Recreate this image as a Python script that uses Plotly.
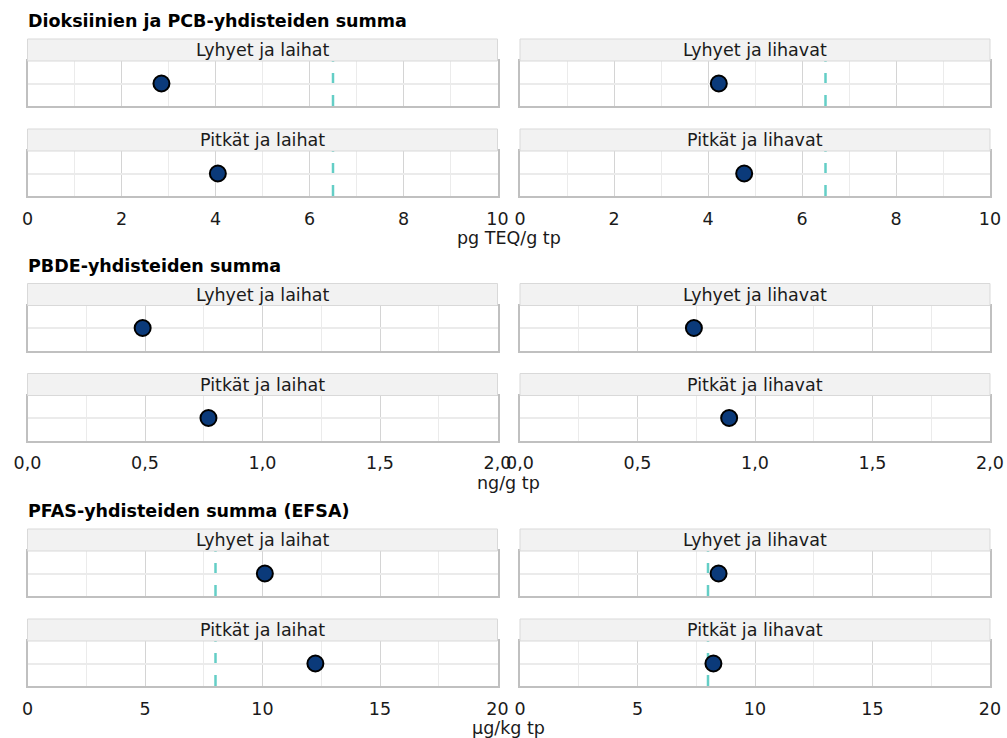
import plotly.graph_objects as go

# Faceted dot charts: three contaminant sums, four fish size groups each
groups = ["Lyhyet ja laihat", "Lyhyet ja lihavat", "Pitkät ja laihat", "Pitkät ja lihavat"]

dioxin_pcb = [2.85, 4.23, 4.05, 4.77]
pbde = [0.49, 0.74, 0.77, 0.89]
pfas = [10.1, 8.45, 12.25, 8.23]

block_titles = [
    "Dioksiinien ja PCB-yhdisteiden summa",
    "PBDE-yhdisteiden summa",
    "PFAS-yhdisteiden summa (EFSA)",
]
units = ["pg TEQ/g tp", "ng/g tp", "µg/kg tp"]
limits = [6.5, None, 8.0]
x_max = [10, 2, 20]
major_ticks = [
    [0, 2, 4, 6, 8, 10],
    [0, 0.5, 1.0, 1.5, 2.0],
    [0, 5, 10, 15, 20],
]
tick_labels = [
    ["0", "2", "4", "6", "8", "10"],
    ["0,0", "0,5", "1,0", "1,5", "2,0"],
    ["0", "5", "10", "15", "20"],
]

series = [dioxin_pcb, pbde, pfas]

# ---- geometry (pixels) ----
W, H = 1007, 738
col_left = [27.5, 520.0]
col_right = [497.5, 990.0]
block_tops = [39.0, 283.5, 529.0]
STRIP_H = 22.0
PANEL_H = 45.0
ROW_STEP = 90.0

FONT = "DejaVu Sans, Verdana, sans-serif"
FS = 17.5
TEXT = "#1A1A1A"
BORDER = "#C0C0C0"
GRID_MAJOR = "#D4D4D4"
GRID_MINOR = "#EBEBEB"
DOT_FILL = "#0B3A7A"
LIMIT_COLOR = "#64CEC6"


def fx(px):
    return px / W


def fy(py):
    return 1 - py / H


fig = go.Figure()
axes = {}
shapes = []
annotations = []
n = 0
for b in range(3):
    top = block_tops[b]
    vals = series[b]
    minor_vals = [
        (a + c) / 2 for a, c in zip(major_ticks[b][:-1], major_ticks[b][1:])
    ]
    for g in range(4):
        r, c = divmod(g, 2)
        n += 1
        strip_top = top + r * ROW_STEP
        pan_top = strip_top + STRIP_H
        pan_bot = pan_top + PANEL_H
        x0, x1 = col_left[c], col_right[c]
        xa = "x" if n == 1 else f"x{n}"
        ya = "y" if n == 1 else f"y{n}"
        kx = "xaxis" if n == 1 else f"xaxis{n}"
        ky = "yaxis" if n == 1 else f"yaxis{n}"

        fig.add_trace(
            go.Scatter(
                x=[vals[g]],
                y=[1],
                xaxis=xa,
                yaxis=ya,
                mode="markers",
                marker=dict(
                    symbol="circle",
                    size=16,
                    color=DOT_FILL,
                    line=dict(color="black", width=2),
                ),
                showlegend=False,
                hoverinfo="skip",
                cliponaxis=False,
            )
        )

        axes[kx] = dict(
            domain=[fx(x0), fx(x1)],
            anchor=ya,
            range=[0, x_max[b]],
            automargin=False,
            tickmode="array",
            tickvals=major_ticks[b],
            ticktext=tick_labels[b],
            showticklabels=(r == 1),
            ticks="outside" if r == 1 else "",
            ticklen=6,
            tickcolor="rgba(0,0,0,0)",
            tickfont=dict(family=FONT, size=FS, color=TEXT),
            showgrid=True,
            gridcolor=GRID_MAJOR,
            gridwidth=1,
            minor=dict(
                tickmode="array",
                tickvals=minor_vals,
                showgrid=True,
                gridcolor=GRID_MINOR,
                gridwidth=1,
                ticks="",
            ),
            showline=True,
            mirror=True,
            linecolor=BORDER,
            linewidth=1.5,
            zeroline=False,
            fixedrange=True,
        )
        axes[ky] = dict(
            domain=[fy(pan_bot), fy(pan_top)],
            anchor=xa,
            range=[0.4, 1.6],
            automargin=False,
            tickmode="array",
            tickvals=[1],
            showticklabels=False,
            ticks="",
            showgrid=True,
            gridcolor=GRID_MINOR,
            gridwidth=2,
            showline=True,
            mirror=True,
            linecolor=BORDER,
            linewidth=1.5,
            zeroline=False,
            fixedrange=True,
        )

        # facet strip
        shapes.append(
            dict(
                type="rect",
                xref="paper",
                yref="paper",
                x0=fx(x0),
                x1=fx(x1),
                y0=fy(pan_top),
                y1=fy(strip_top),
                fillcolor="#F2F2F2",
                line=dict(color="#D9D9D9", width=1),
                layer="above",
            )
        )
        annotations.append(
            dict(
                xref="paper",
                yref="paper",
                x=fx((x0 + x1) / 2),
                y=fy(strip_top + STRIP_H / 2),
                text=groups[g],
                showarrow=False,
                xanchor="center",
                yanchor="middle",
                font=dict(family=FONT, size=FS, color=TEXT),
            )
        )

        # reference limit, drawn as a dashed vertical line
        if limits[b] is not None:
            shapes.append(
                dict(
                    type="line",
                    xref=xa,
                    yref=f"{ya} domain",
                    x0=limits[b],
                    x1=limits[b],
                    y0=0,
                    y1=1,
                    line=dict(color=LIMIT_COLOR, width=2.5, dash="11px,11px"),
                    layer="below",
                )
            )

    # block title
    annotations.append(
        dict(
            xref="paper",
            yref="paper",
            x=fx(26),
            y=fy(top - 18),
            text=f"<b>{block_titles[b]}</b>",
            showarrow=False,
            xanchor="left",
            yanchor="middle",
            font=dict(family=FONT, size=FS, color="black"),
        )
    )
    # shared x-axis title
    bottom = top + ROW_STEP + STRIP_H + PANEL_H
    annotations.append(
        dict(
            xref="paper",
            yref="paper",
            x=fx((col_right[0] + col_left[1]) / 2),
            y=fy(bottom + 42),
            text=units[b],
            showarrow=False,
            xanchor="center",
            yanchor="middle",
            font=dict(family=FONT, size=FS, color=TEXT),
        )
    )

fig.update_layout(
    width=W,
    height=H,
    margin=dict(l=0, r=0, t=0, b=0, autoexpand=False),
    paper_bgcolor="white",
    plot_bgcolor="white",
    showlegend=False,
    shapes=shapes,
    annotations=annotations,
    **axes,
)

fig.write_html("out.html", config=dict(displayModeBar=False))
